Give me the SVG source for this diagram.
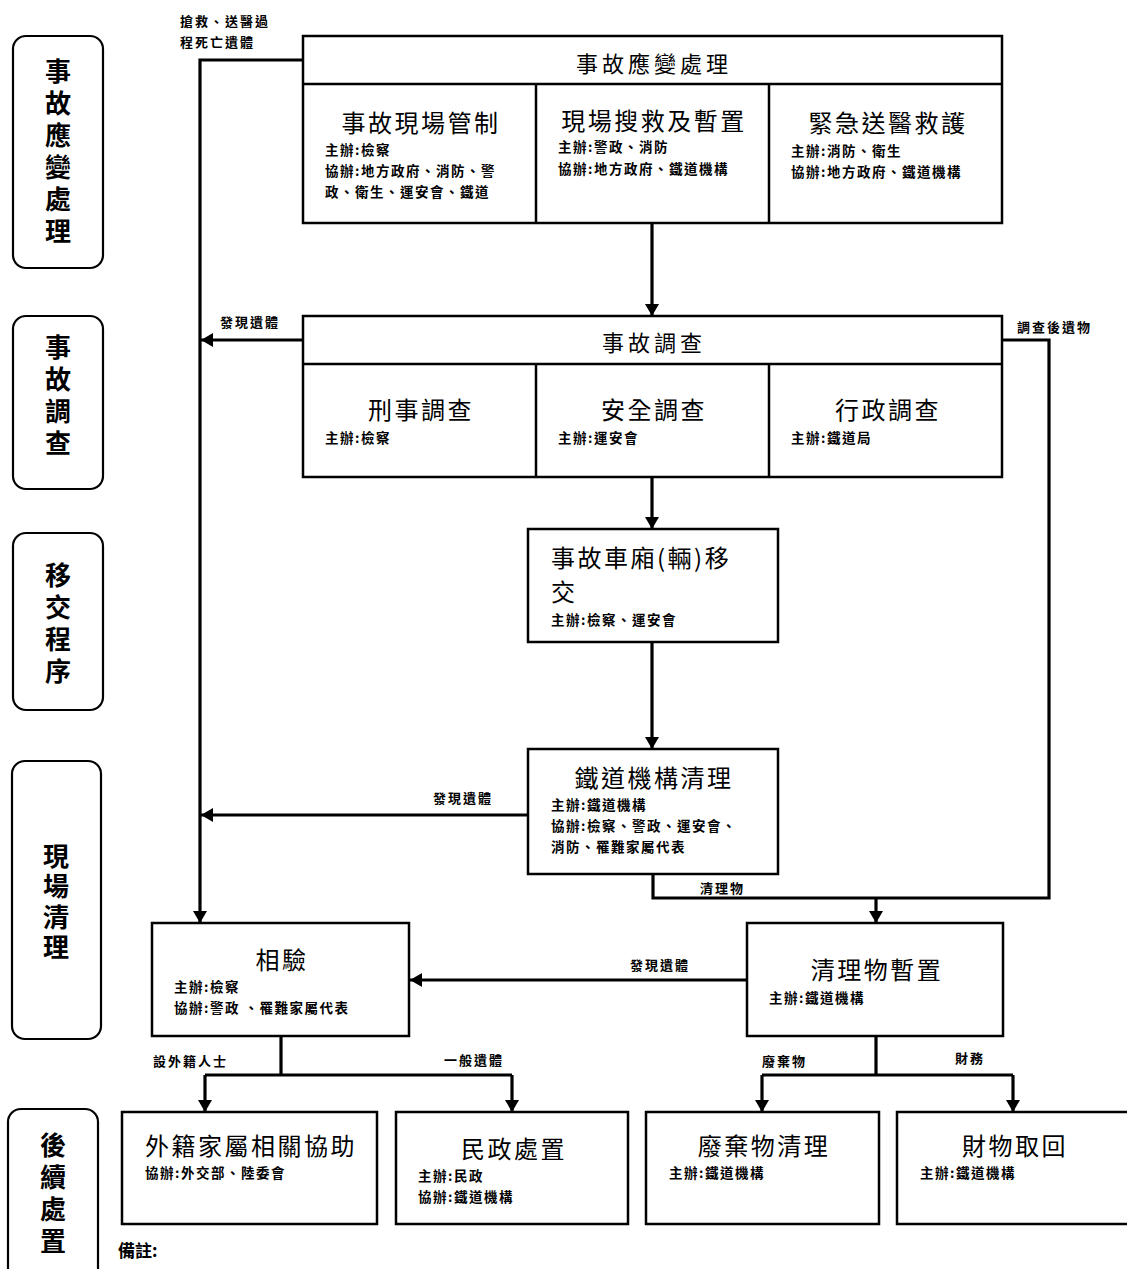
<svg xmlns="http://www.w3.org/2000/svg" width="1127" height="1269" viewBox="0 0 1127 1269">
<defs>
<style>
.lane{fill:#fff;stroke:#000;stroke-width:2.2}
.box{fill:#fff;stroke:#000;stroke-width:2.5}
.div{stroke:#000;stroke-width:2.5;fill:none}
.con{stroke:#000;stroke-width:3.2;fill:none}
.arr{marker-end:url(#ah)}
text{font-family:"Noto Sans CJK TC","Noto Sans CJK SC",sans-serif;fill:#000}
.lt{font-size:26px;font-weight:700;text-anchor:middle;writing-mode:vertical-rl;letter-spacing:6px}
.hd{font-size:22px;letter-spacing:4px;text-anchor:middle}
.ti{font-size:24px;letter-spacing:2.5px;text-anchor:middle}
.sb{font-size:13.5px;font-weight:700;letter-spacing:1.5px}
.lb{font-size:13px;font-weight:700;letter-spacing:2px}
</style>
<marker id="ah" viewBox="0 0 12 14" refX="12" refY="7" markerWidth="12" markerHeight="14" markerUnits="userSpaceOnUse" orient="auto">
<path d="M0,0 L12,7 L0,14 Z" fill="#000"/>
</marker>
</defs>
<rect width="1127" height="1269" fill="#fff"/>

<g id="lanes">
<g id="lane1"><rect class="lane" x="13" y="36" width="90" height="232" rx="13"/>
<text class="lt" x="58" y="154">事故應變處理</text></g>
<g id="lane2"><rect class="lane" x="13" y="316" width="90" height="173" rx="13"/>
<text class="lt" x="58" y="398">事故調查</text></g>
<g id="lane3"><rect class="lane" x="13" y="533" width="90" height="177" rx="13"/>
<text class="lt" x="58" y="626">移交程序</text></g>
<g id="lane4"><rect class="lane" x="12" y="761" width="89" height="278" rx="13"/>
<text class="lt" x="56" y="904" style="letter-spacing:4.5px">現場清理</text></g>
<g id="lane5"><rect class="lane" x="8" y="1109" width="90" height="175" rx="13"/>
<text class="lt" x="53" y="1196">後續處置</text></g>
</g>

<g id="connectors">
<path class="con arr" d="M303,60 H200 V923"/>
<path class="con arr" d="M303,340 H201"/>
<path class="con arr" d="M528,815 H201"/>
<path class="con arr" d="M652,223 V316"/>
<path class="con arr" d="M652,477 V529"/>
<path class="con arr" d="M652,642 V749"/>
<path class="con" d="M1002,340 H1049 V898 H653 V874"/>
<path class="con arr" d="M876,898 V923"/>
<path class="con arr" d="M747,980 H410"/>
<path class="con" d="M281,1036 V1075 M205,1075 H512"/>
<path class="con arr" d="M205,1075 V1112"/>
<path class="con arr" d="M512,1075 V1112"/>
<path class="con" d="M876,1036 V1075 M762,1075 H1013"/>
<path class="con arr" d="M762,1075 V1112"/>
<path class="con arr" d="M1013,1075 V1112"/>
<text class="lb"><tspan x="180" y="26">搶救、送醫過</tspan><tspan x="180" y="47">程死亡遺體</tspan></text>
<text class="lb" x="220" y="327">發現遺體</text>
<text class="lb" x="1017" y="332">調查後遺物</text>
<text class="lb" x="433" y="803">發現遺體</text>
<text class="lb" x="700" y="893">清理物</text>
<text class="lb" x="630" y="970">發現遺體</text>
<text class="lb" x="153" y="1066">設外籍人士</text>
<text class="lb" x="444" y="1065">一般遺體</text>
<text class="lb" x="762" y="1066">廢棄物</text>
<text class="lb" x="955" y="1063">財務</text>
</g>

<g id="n-response">
<rect class="box" x="303" y="36" width="699" height="187"/>
<path class="div" d="M303,84 H1002 M536,84 V223 M769,84 V223"/>
<text class="hd" x="654" y="72">事故應變處理</text>
<text class="ti" x="421" y="132">事故現場管制</text>
<text class="sb"><tspan x="325" y="155">主辦:檢察</tspan><tspan x="325" y="176">協辦:地方政府、消防、警</tspan><tspan x="325" y="197">政、衛生、運安會、鐵道</tspan></text>
<text class="ti" x="654" y="130">現場搜救及暫置</text>
<text class="sb"><tspan x="558" y="152">主辦:警政、消防</tspan><tspan x="558" y="174">協辦:地方政府、鐵道機構</tspan></text>
<text class="ti" x="888" y="132">緊急送醫救護</text>
<text class="sb"><tspan x="791" y="156">主辦:消防、衛生</tspan><tspan x="791" y="177">協辦:地方政府、鐵道機構</tspan></text>
</g>

<g id="n-investigation">
<rect class="box" x="303" y="316" width="699" height="161"/>
<path class="div" d="M303,364 H1002 M536,364 V477 M769,364 V477"/>
<text class="hd" x="654" y="351">事故調查</text>
<text class="ti" x="421" y="419">刑事調查</text>
<text class="sb" x="325" y="443">主辦:檢察</text>
<text class="ti" x="654" y="419">安全調查</text>
<text class="sb" x="558" y="443">主辦:運安會</text>
<text class="ti" x="888" y="419">行政調查</text>
<text class="sb" x="791" y="443">主辦:鐵道局</text>
</g>

<g id="n-transfer">
<rect class="box" x="528" y="529" width="250" height="113"/>
<text class="ti" style="text-anchor:start" x="551" y="567">事故車廂(輛)移</text>
<text class="ti" style="text-anchor:start" x="551" y="601">交</text>
<text class="sb" x="551" y="625">主辦:檢察、運安會</text>
</g>

<g id="n-cleanup">
<rect class="box" x="528" y="749" width="250" height="125"/>
<text class="ti" x="654" y="787">鐵道機構清理</text>
<text class="sb"><tspan x="551" y="810">主辦:鐵道機構</tspan><tspan x="551" y="831">協辦:檢察、警政、運安會、</tspan><tspan x="551" y="852">消防、罹難家屬代表</tspan></text>
</g>

<g id="n-autopsy">
<rect class="box" x="152" y="923" width="257" height="113"/>
<text class="ti" x="282" y="969">相驗</text>
<text class="sb"><tspan x="174" y="992">主辦:檢察</tspan><tspan x="174" y="1013">協辦:警政 、罹難家屬代表</tspan></text>
</g>

<g id="n-storage">
<rect class="box" x="747" y="923" width="256" height="113"/>
<text class="ti" x="877" y="979">清理物暫置</text>
<text class="sb" x="769" y="1003">主辦:鐵道機構</text>
</g>

<g id="n-foreign">
<rect class="box" x="122" y="1112" width="255" height="112"/>
<text class="ti" x="251" y="1155">外籍家屬相關協助</text>
<text class="sb" x="145" y="1178">協辦:外交部、陸委會</text>
</g>

<g id="n-civil">
<rect class="box" x="396" y="1112" width="232" height="112"/>
<text class="ti" x="514" y="1158">民政處置</text>
<text class="sb"><tspan x="418" y="1181">主辦:民政</tspan><tspan x="418" y="1202">協辦:鐵道機構</tspan></text>
</g>

<g id="n-waste">
<rect class="box" x="646" y="1112" width="233" height="112"/>
<text class="ti" x="764" y="1155">廢棄物清理</text>
<text class="sb" x="669" y="1178">主辦:鐵道機構</text>
</g>

<g id="n-property">
<rect class="box" x="897" y="1112" width="240" height="112"/>
<text class="ti" x="1015" y="1155">財物取回</text>
<text class="sb" x="920" y="1178">主辦:鐵道機構</text>
</g>

<text id="note" x="118" y="1257" style="font-size:17px;font-weight:700">備註:</text>
</svg>
